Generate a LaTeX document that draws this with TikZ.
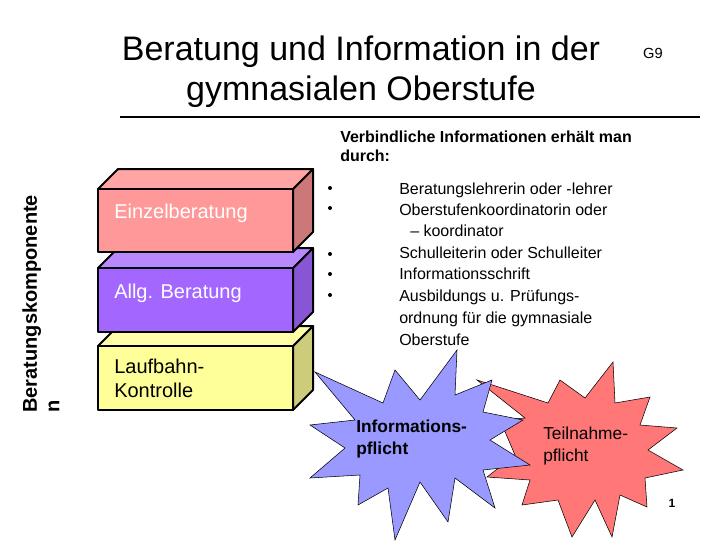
\documentclass[tikz,border=0pt]{standalone}
\usepackage{fontspec}
\setmainfont{Liberation Sans}
\definecolor{rf}{HTML}{FF9999}\definecolor{rt}{HTML}{FFA5A5}\definecolor{rs}{HTML}{CC7878}
\definecolor{pf}{HTML}{A366FF}\definecolor{pt}{HTML}{B888FF}\definecolor{ps}{HTML}{8855D5}
\definecolor{yf}{HTML}{FFFF99}\definecolor{yt}{HTML}{FFFFA8}\definecolor{ys}{HTML}{CCCC7A}
\definecolor{bs}{HTML}{9999FF}\definecolor{rst}{HTML}{FF7777}
\begin{document}
\begin{tikzpicture}[x=0.75pt,y=-0.75pt,
  txt/.style={anchor=base west,inner sep=0pt,font=\fontsize{12pt}{15pt}\selectfont},
  boxtxt/.style={anchor=west,align=left,inner sep=0pt,font=\fontsize{15pt}{18pt}\selectfont},
  edge/.style={draw=black,line width=1.5pt,line join=round},
  dot/.style={circle,fill=black,inner sep=0pt,minimum size=3pt}]
\useasboundingbox[fill=white] (0,0) rectangle (720,540);
% title
\node[align=center,font=\fontsize{25.5pt}{30pt}\selectfont] (title) at (361,72) {Beratung und Information in der\\gymnasialen Oberstufe};
\node[font=\fontsize{11pt}{13pt}\selectfont] (g9) at (653,53) {G9};
\draw[line width=2pt] (120,117) coordinate (l1) -- (700,117) coordinate (l2);
% rotated label
\node[rotate=90,align=left,font=\bfseries\fontsize{15pt}{17pt}\selectfont,anchor=north west,inner sep=0pt] (side) at (22,413) {Beratungskomponente\\n};
% boxes
\def\dx{20}\def\dy{-20}
\newcommand{\cube}[6]{%
  \fill[#6,edge] (#3,#2) -- (#3+\dx,#2+\dy) -- (#3+\dx,#4+\dy) -- (#3,#4) -- cycle;
  \fill[#5,edge] (#1,#2) -- (#1+\dx,#2+\dy) -- (#3+\dx,#2+\dy) -- (#3,#2) -- cycle;
}
\cube{98}{346}{293}{410}{yt}{ys}
\fill[yf,edge] (98,346) rectangle (293,410);
\cube{98}{268}{293}{332}{pt}{ps}
\fill[pf,edge] (98,268) rectangle (293,332);
\cube{98}{189}{293}{252}{rt}{rs}
\fill[rf,edge] (98,189) rectangle (293,252);
\node[boxtxt,text=white] (b1) at (114,213) {Einzelberatung};
\node[boxtxt,text=white] (b2) at (114,293) {Allg. Beratung};
\node[boxtxt,text=black] (b3) at (114,378) {Laufbahn-\\Kontrolle};
% heading
\node[anchor=north west,align=left,inner sep=0pt,font=\bfseries\fontsize{12pt}{14pt}\selectfont] (head) at (340,131) {Verbindliche Informationen erhält man\\durch:};
\foreach \y/\n in {188/1,208/2,254/3,274/4,295/5} \node[dot] (bul\n) at (330,\y) {};
\foreach \t/\y/\x/\n in {Beratungslehrerin oder -lehrer/194/399/1,Oberstufenkoordinatorin oder/215/399/2,– koordinator/236/410/3,Schulleiterin oder Schulleiter/258/399/4,Informationsschrift/279/399/5,Ausbildungs u. Prüfungs-/301/399/6,ordnung für die gymnasiale/323/399/7,Oberstufe/345/399/8}
  \node[txt] (t\n) at (\x,\y) {\t};
% red star
\fill[rst,draw=black,line width=0.4pt]
 (477,380) -- (548,403) -- (560,380) -- (585,398) -- (613,362) -- (615,403) -- (650,397) -- (640,425)
 -- (677,428) -- (648,450) -- (683,470) -- (645,478) -- (647,507) -- (620,495) -- (612,537) -- (595,500)
 -- (572,537) -- (558,500) -- (522,505) -- (530,480) -- (487,477) -- (515,455) -- (500,420) -- (525,418) -- cycle;
% blue star
\fill[bs,draw=black,line width=0.4pt]
 (315,372) -- (383,403) -- (395,370) -- (420,400) -- (457,350) -- (455,395) -- (492,380) -- (483,412)
 -- (523,420) -- (490,440) -- (530,465) -- (483,470) -- (495,508) -- (455,478) -- (448,522) -- (420,482)
 -- (395,540) -- (388,488) -- (358,505) -- (360,475) -- (310,478) -- (345,448) -- (310,425) -- (355,420) -- cycle;
\node[align=left,font=\bfseries\fontsize{13pt}{16pt}\selectfont,anchor=west,inner sep=0pt] (s1) at (356,439) {Informations-\\pflicht};
\node[align=left,font=\fontsize{13pt}{16pt}\selectfont,anchor=west,inner sep=0pt] (s2) at (543,446) {Teilnahme-\\pflicht};
\node[font=\bfseries\fontsize{9pt}{10pt}\selectfont] (pg) at (672,503) {1};
\end{tikzpicture}
\end{document}
